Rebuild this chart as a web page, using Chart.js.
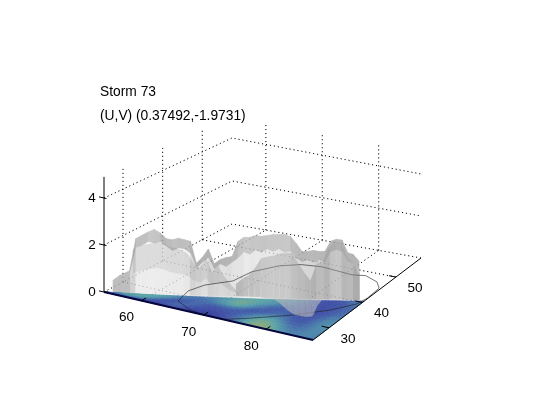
<!DOCTYPE html>
<html>
<head>
<meta charset="utf-8">
<title>Storm 73</title>
<style>
  html, body { margin: 0; padding: 0; background: #fff; }
  canvas { display: block; }
</style>
<script src="https://cdn.jsdelivr.net/npm/chart.js@4"></script>
</head>
<body>
<canvas id="chart" width="533" height="400"></canvas>
<script>
// Tick labels and title
const titleLines = ['Storm 73', '(U,V) (0.37492,-1.9731)'];
const lonTicks = [60, 70, 80];
const latTicks = [30, 40, 50];
const zTicks = [0, 2, 4];
const lonRange = [54, 87.5];
const latRange = [25.2, 57.5];
const zTop = 5;

// Rear sheet of the surface: ends of each row on the floor, then heights
const crestLon = [54, 79.6];
const crestLat = [31.7, 52.5];
const crestHeight = [0.36, 1.71, 1.85, 1.98, 2.08, 1.92, 1.66, 1.6, 1.66, 1.58, 1.5, 0.52, 0.77, 1.12, 0.46, 0.63, 0.7, 0.73, 1.39, 1.55,
  1.54, 1.6, 1.55, 1.57, 1.6, 1.58, 1.56, 1.45, 1.11, 0.73, 0.71, 0.74, 0.67, 0.65, 1.09, 1.16, 1.1, 0.49, 0.38, 0.05];
const shoulderLon = [56.1, 82.6];
const shoulderLat = [28.5, 47.5];
const shoulderHeight = [0.59, 1.71, 1.8, 1.96, 1.88, 1.94, 1.75, 1.55, 1.66, 1.62, 1.42, 0.78, 1.02, 1.21, 0.7, 0.92, 0.8, 0.98, 1.15, 1.41,
  1.3, 1.48, 1.36, 1.5, 1.38, 1.48, 1.32, 1.36, 1.05, 0.85, 0.93, 0.8, 0.9, 0.78, 1.24, 1.32, 1.22, 0.75, 0.65, 0.27];
const footLon = [57.1, 86.7];
const footLat = [26.8, 40.5];

// Low toe at the far left of the rear sheet
const toeLon = [55, 56, 57.1];
const toeLat = [25.9, 26.1, 26.8];
const toeHeight = [0.5, 0.75, 0.95];

// Nearer ridge in front of the left mass
const nearCrestLon = [56.4, 69.1];
const nearCrestLat = [28.7, 35.5];
const nearHeight = [1.65, 1.79, 1.88, 1.93, 1.98, 1.98, 1.81, 1.77, 1.69, 1.52, 1.1, 0.93, 1.37, 0.76, 1.03, 0.6, 0.26, 0];
const nearKneeLon = [56.9, 69.7];
const nearKneeLat = [27.9, 34.5];
const nearKneeHeight = [0.75, 0.8, 0.9, 0.95, 1, 0.95, 0.85, 0.8, 0.75, 0.7, 0.5, 0.42, 0.62, 0.35, 0.45, 0.28, 0.12, 0];
const nearFootLon = [57.1, 70.2];
const nearFootLat = [26.8, 33.5];

// Front sheet: crest row and the foot it drops to, with the pit near lon 82
const frontCrestLon = [67.9, 84.5];
const frontCrestLat = [37.4, 44.3];
const frontHeight = [0, 0.23, 0.41, 0.72, 1.17, 1.26, 1.31, 1.41, 1.46, 1.47, 1.04, 0.62, 0.28, 1.03, 1.12, 1.74, 2.05, 2.02, 1.37, 1.12, 0.57];
const frontFootLon = [70.2, 71.0, 71.9, 72.7, 73.5, 74.5, 75.3, 77.0, 79.1, 80.8, 81.8, 82.85, 83.5, 82.2, 81.75, 82.6, 83.4, 84.2, 85.05, 85.9, 86.7];
const frontFootLat = [33.5, 33.85, 34.2, 34.55, 34.9, 34.9, 35.3, 34.3, 32.7, 31.7, 31.7, 31.75, 32.4, 36.1, 38.4, 38.75, 39.1, 39.45, 39.8, 40.15, 40.5];
const frontLineLon = [70.2, 86.7];
const frontLineLat = [33.5, 40.5];

// Floor map level (0 low .. 9 high), row 0 runs along the front edge
const floorEndLat = 40.5;
const floorLevels = [
  [0, 0, 1, 1, 1, 1, 1, 2, 2, 1, 1, 1, 1, 2, 3, 5, 7, 8, 8, 6, 5, 4, 5, 4],
  [0, 1, 2, 3, 2, 2, 3, 4, 3, 2, 2, 2, 2, 3, 4, 5, 7, 7, 6, 4, 3, 3, 4, 5],
  [1, 2, 4, 5, 4, 2, 2, 3, 4, 3, 2, 2, 2, 2, 2, 3, 4, 5, 4, 3, 2, 3, 5, 5],
  [1, 3, 5, 6, 5, 4, 2, 2, 3, 4, 3, 3, 4, 5, 3, 2, 2, 2, 3, 2, 2, 2, 3, 4],
  [2, 4, 6, 7, 6, 5, 4, 3, 3, 3, 4, 6, 8, 8, 6, 5, 4, 3, 3, 3, 2, 2, 2, 3],
  [3, 5, 6, 6, 6, 6, 5, 4, 4, 4, 5, 5, 6, 6, 6, 6, 5, 5, 4, 3, 2, 2, 3, 4]
];

// Closed contour on the floor
const contourLon = [64.3, 63.5, 64.3, 66.9, 67.4, 69.7, 72.3, 75.5, 81.1, 83.1, 85.8, 87.2, 87.4, 87, 84.6, 80.5, 76.1, 73.4, 70.4, 67.4, 64.3];
const contourLat = [27.8, 31.8, 34.9, 38.2, 42.5, 46.3, 48.1, 48.7, 48, 48.6, 47.3, 45.5, 41.7, 39.1, 35.5, 31.2, 27.5, 25.4, 25.2, 25.8, 27.8];

// Where the floor corners and the height unit land on the page
const view = {
  left: [104, 292, 23.5],
  front: [313, 340, 24],
  right: [421, 258, 21],
  back: [232, 224, 21.5]
};

function project(lon, lat, z) {
  const s = (lon - lonRange[0]) / (lonRange[1] - lonRange[0]);
  const t = (lat - latRange[0]) / (latRange[1] - latRange[0]);
  const mix = i => view.left[i] * (1 - s) * (1 - t) + view.front[i] * s * (1 - t) + view.back[i] * (1 - s) * t + view.right[i] * s * t;
  return { x: mix(0), y: mix(1) - z * mix(2) };
}

function lerp(a, b, f) { return a + (b - a) * f; }

function row(lonEnds, latEnds, heights) {
  return heights.map((h, i) => {
    const f = i / (heights.length - 1);
    return [lerp(lonEnds[0], lonEnds[1], f), lerp(latEnds[0], latEnds[1], f), h];
  });
}

const layers = [];

function addLine(points, color, width, dash) {
  layers.push({
    data: points.map(p => project(p[0], p[1], p[2])),
    showLine: true, fill: false, borderColor: color, borderWidth: width, borderDash: dash || [],
    pointRadius: 0, tension: 0, clip: false
  });
}

function addPatch(points, color, edge) {
  layers.push({
    data: points.concat([points[0]]).map(p => project(p[0], p[1], p[2])),
    showLine: true, fill: 'shape', backgroundColor: color, borderColor: color, borderWidth: edge || 0,
    pointRadius: 0, tension: 0, clip: false
  });
}

// Brightness of a quad, lit from the viewer's side
function shade(a, b, c, d) {
  const u = [(c[0] - a[0]) * 6.3, (c[1] - a[1]) * 6.4, (c[2] - a[2]) * 22];
  const v = [(d[0] - b[0]) * 6.3, (d[1] - b[1]) * 6.4, (d[2] - b[2]) * 22];
  let n = [u[1] * v[2] - u[2] * v[1], u[2] * v[0] - u[0] * v[2], u[0] * v[1] - u[1] * v[0]];
  const len = Math.hypot(n[0], n[1], n[2]) || 1;
  n = n.map(k => k / len);
  if (n[2] < 0) n = n.map(k => -k);
  return Math.max(0, n[0] * 0.52 - n[1] * 0.83 + n[2] * 0.2);
}

function addStrip(rear, fore, base, range, alpha, edge) {
  for (let i = 0; i < rear.length - 1; i++) {
    const q = [rear[i], rear[i + 1], fore[i + 1], fore[i]];
    const v = Math.round(base + range * shade(q[0], q[1], q[2], q[3]));
    addPatch(q, `rgba(${v},${v},${v},${alpha})`, edge);
  }
}

function addGrid(color) {
  const dots = [1, 3];
  latTicks.forEach(lat => {
    addLine([[lonRange[0], lat, 0], [lonRange[0], lat, zTop]], color, 1, dots);
    addLine([[lonRange[0], lat, 0], [lonRange[1], lat, 0]], color, 1, dots);
  });
  lonTicks.forEach(lon => {
    addLine([[lon, latRange[1], 0], [lon, latRange[1], zTop]], color, 1, dots);
    addLine([[lon, latRange[0], 0], [lon, latRange[1], 0]], color, 1, dots);
  });
  [0, 2, 4].forEach(z => {
    addLine([[lonRange[0], latRange[0], z], [lonRange[0], latRange[1], z], [lonRange[1], latRange[1], z]], color, 1, dots);
  });
}

const floorStops = [[30, 38, 130], [52, 62, 155], [64, 78, 165], [68, 95, 170], [74, 122, 172], [82, 146, 172], [92, 164, 168], [122, 168, 140], [146, 170, 118], [168, 168, 98]];

function levelColor(level) {
  const i = Math.min(8, Math.floor(level));
  const f = level - i;
  const c = floorStops[i].map((v, k) => Math.round(lerp(v, floorStops[i + 1][k], f)));
  return `rgb(${c[0]},${c[1]},${c[2]})`;
}

// corner level: mean of the cells that touch the corner
function cornerLevel(c, r) {
  let sum = 0, n = 0;
  [[c - 1, r - 1], [c, r - 1], [c - 1, r], [c, r]].forEach(([i, k]) => {
    if (floorLevels[k] && floorLevels[k][i] !== undefined) { sum += floorLevels[k][i]; n++; }
  });
  return sum / n;
}

// --- grid behind the surface
addGrid('#000');

// --- rear sheet
const crest = row(crestLon, crestLat, crestHeight);
const shoulder = row(shoulderLon, shoulderLat, shoulderHeight);
const foot = row(footLon, footLat, crestHeight.map(() => 0));
addStrip(crest, shoulder, 176, 78, 1, 0.6);
addStrip(shoulder, foot, 166, 84, 1, 0.6);
const toeTop = toeLon.map((lon, i) => [lon, toeLat[i], toeHeight[i]]);
const toeFoot = toeLon.map((lon, i) => [lon, toeLat[i], 0]);
addStrip(toeTop, toeFoot, 190, 20, 1, 0.6);
addGrid('rgba(0,0,0,0.3)');

// --- nearer ridge on the left
const nearCrest = row(nearCrestLon, nearCrestLat, nearHeight);
const nearKnee = row(nearKneeLon, nearKneeLat, nearKneeHeight);
const nearFoot = row(nearFootLon, nearFootLat, nearHeight.map(() => 0));
addStrip(nearCrest, nearKnee, 110, 30, 0.26);
addStrip(nearKnee, nearFoot, 130, 30, 0.12);

// --- floor map
const columns = floorLevels[0].length;
const rows = floorLevels.length;
const corner = (c, r) => {
  const lon = lerp(lonRange[0], lonRange[1], c / columns);
  const edge = lerp(latRange[0], floorEndLat, c / columns);
  return [lon, lerp(latRange[0], edge, r / rows), 0];
};
for (let k = 0; k < rows; k++) {
  for (let i = 0; i < columns; i++) {
    const a = cornerLevel(i, k), b = cornerLevel(i + 1, k), c = cornerLevel(i + 1, k + 1), d = cornerLevel(i, k + 1);
    for (let p = 0; p < 3; p++) {
      for (let q = 0; q < 2; q++) {
        const fc = (p + 0.5) / 3, fr = (q + 0.5) / 2;
        const level = lerp(lerp(a, b, fc), lerp(d, c, fc), fr);
        addPatch([corner(i + p / 3, k + q / 2), corner(i + (p + 1) / 3, k + q / 2), corner(i + (p + 1) / 3, k + (q + 1) / 2), corner(i + p / 3, k + (q + 1) / 2)], levelColor(level), 0.7);
      }
    }
  }
}

// --- contour
addLine(contourLon.map((lon, i) => [lon, contourLat[i], 0]), 'rgba(30,30,30,0.6)', 1);

// --- front sheet and the pit it opens onto the floor
const frontCrest = row(frontCrestLon, frontCrestLat, frontHeight);
const frontFoot = frontFootLon.map((lon, i) => [lon, frontFootLat[i], 0]);
const frontLine = row(frontLineLon, frontLineLat, frontHeight.map(() => 0));
addStrip(frontLine, frontFoot, 190, 0, 0.6);
addStrip(frontCrest, frontLine, 110, 60, 0.42);

// --- axes
const axisLeft = [lonRange[0], latRange[0]];
addLine([[axisLeft[0], axisLeft[1], 0], [axisLeft[0], axisLeft[1], 4.9]], '#000', 1);
addLine([[lonRange[0], latRange[0], 0], [lonRange[1], latRange[0], 0]], '#06063c', 2);
addLine([[lonRange[1], latRange[0], 0], [lonRange[1], latRange[1], 0]], '#000', 1);
zTicks.forEach(z => addLine([[axisLeft[0] - 0.8, axisLeft[1], z], [axisLeft[0] + 0.4, axisLeft[1], z]], '#000', 1));
lonTicks.forEach(lon => addLine([[lon, latRange[0], 0], [lon, latRange[0] + 1.2, 0]], '#000', 1));
latTicks.forEach(lat => addLine([[lonRange[1], lat, 0], [lonRange[1] - 1.2, lat, 0]], '#000', 1));

// tick labels follow the projected axes
const axisLabels = {
  id: 'axisLabels',
  afterDatasetsDraw(chart) {
    const { ctx, scales } = chart;
    const put = (text, p, dx, dy) => {
      ctx.fillText(text, scales.x.getPixelForValue(p.x) + dx, scales.y.getPixelForValue(p.y) + dy);
    };
    ctx.save();
    ctx.font = '13.5px "Liberation Sans"';
    ctx.fillStyle = '#000';
    ctx.textAlign = 'center';
    ctx.textBaseline = 'middle';
    zTicks.forEach(z => put(String(z), project(lonRange[0], latRange[0], z), -12, 0));
    lonTicks.forEach(lon => put(String(lon), project(lon, latRange[0], 0), -15, 17));
    latTicks.forEach(lat => put(String(lat), project(lonRange[1], lat, 0), 19, 11));
    ctx.restore();
  }
};

// Chart.js paints the first dataset last, so the list runs front to back
new Chart(document.getElementById('chart'), {
  type: 'scatter',
  data: { datasets: layers.slice().reverse() },
  options: {
    responsive: false,
    animation: false,
    events: [],
    layout: { padding: { left: 100 } },
    plugins: {
      legend: { display: false },
      tooltip: { enabled: false },
      title: {
        display: true,
        text: titleLines,
        align: 'start',
        color: '#000',
        font: { family: '"Liberation Sans"', size: 13.8, weight: 'normal', lineHeight: 24 / 13.8 },
        padding: { top: 80, bottom: 0 }
      }
    },
    scales: {
      x: { type: 'linear', display: false, min: 100, max: 533 },
      y: { type: 'linear', display: false, min: 128, max: 400, reverse: true }
    }
  },
  plugins: [axisLabels]
});
</script>
</body>
</html>
